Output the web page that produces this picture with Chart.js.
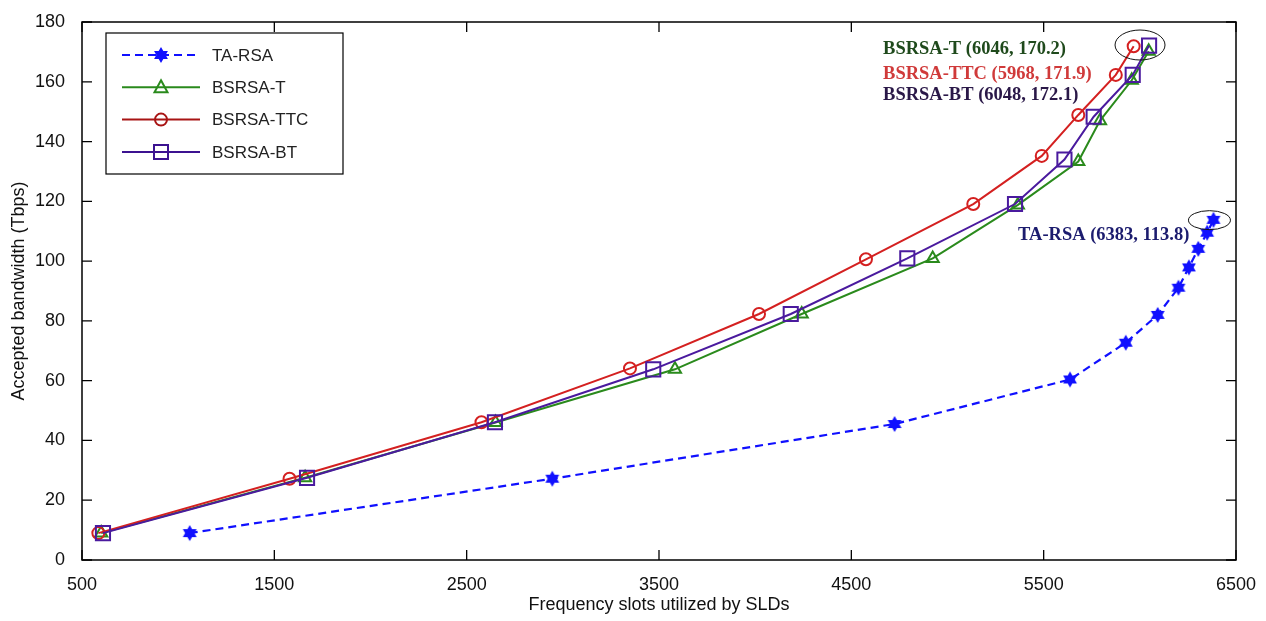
<!DOCTYPE html>
<html>
<head>
<meta charset="utf-8">
<script src="https://cdn.jsdelivr.net/npm/chart.js@4.4.0/dist/chart.umd.min.js"></script>
<style>
  html, body { margin: 0; padding: 0; background: #fff; }
  #wrap { width: 1266px; height: 621px; }
</style>
</head>
<body>
<div id="wrap"><canvas id="chart" width="1266" height="621"></canvas></div>
<script>
// values
const xTicks = [500, 1500, 2500, 3500, 4500, 5500, 6500];
const yTicks = [0, 20, 40, 60, 80, 100, 120, 140, 160, 180];

const taRsaX = [1060, 2945, 4725, 5637, 5927, 6093, 6201, 6255, 6304, 6350, 6383];
const taRsaY = [9, 27.2, 45.5, 60.4, 72.7, 82.0, 91.1, 97.9, 104.1, 109.5, 113.8];

const bsrsaTX = [600, 1660, 2650, 3583, 4242, 4923, 5366, 5680, 5793, 5958, 6046];
const bsrsaTY = [9, 27.5, 46, 63.8, 82.3, 100.9, 118.8, 133.3, 147, 160.5, 170.2];

const bsrsaTtcX = [585, 1579, 2577, 3349, 4020, 4576, 5134, 5490, 5680, 5875, 5968];
const bsrsaTtcY = [9, 27.2, 46.1, 64.1, 82.3, 100.6, 119.1, 135.2, 148.9, 162.3, 171.9];

const bsrsaBtX = [609, 1670, 2647, 3470, 4185, 4791, 5351, 5608, 5760, 5963, 6048];
const bsrsaBtY = [9, 27.5, 46.1, 63.8, 82.3, 100.9, 119.1, 134, 148.3, 162.3, 172.1];

const pts = (xs, ys) => xs.map((x, i) => ({ x: x, y: ys[i] }));

// filled six-point star marker like the matlab one
function makeStar(r, color) {
  const c = document.createElement("canvas");
  const s = r * 2 + 2;
  c.width = s;
  c.height = s;
  const g = c.getContext("2d");
  g.fillStyle = color;
  g.beginPath();
  for (let i = 0; i < 12; i++) {
    const a = -Math.PI / 2 + (i * Math.PI) / 6;
    const rr = i % 2 ? r * 0.58 : r;
    g.lineTo(s / 2 + rr * Math.cos(a), s / 2 + rr * Math.sin(a));
  }
  g.closePath();
  g.fill();
  return c;
}
const starImg = makeStar(8, "#1010ff");

const BLUE = "#1010ff";
const GREEN = "#2a8a1c";
const RED = "#d42020";
const PURPLE = "#4a1a9e";

// box, inward ticks on all four sides
const framePlugin = {
  id: "frame",
  afterDatasetsDraw(chart) {
    const { ctx, chartArea: a, scales } = chart;
    ctx.save();
    ctx.strokeStyle = "#000";
    ctx.lineWidth = 1.5;
    ctx.strokeRect(a.left, a.top, a.right - a.left, a.bottom - a.top);
    ctx.lineWidth = 1.3;
    ctx.beginPath();
    xTicks.forEach((v) => {
      const x = scales.x.getPixelForValue(v);
      ctx.moveTo(x, a.bottom); ctx.lineTo(x, a.bottom - 10);
      ctx.moveTo(x, a.top); ctx.lineTo(x, a.top + 10);
    });
    yTicks.forEach((v) => {
      const y = scales.y.getPixelForValue(v);
      ctx.moveTo(a.left, y); ctx.lineTo(a.left + 10, y);
      ctx.moveTo(a.right, y); ctx.lineTo(a.right - 10, y);
    });
    ctx.stroke();
    ctx.restore();
  },
};

function drawMarker(ctx, kind, x, y, color) {
  ctx.save();
  ctx.strokeStyle = color;
  ctx.lineWidth = 2;
  ctx.setLineDash([]);
  ctx.beginPath();
  if (kind === "star") {
    ctx.drawImage(starImg, x - starImg.width / 2, y - starImg.height / 2);
  } else if (kind === "triangle") {
    ctx.moveTo(x, y - 7); ctx.lineTo(x + 6.5, y + 5); ctx.lineTo(x - 6.5, y + 5); ctx.closePath();
    ctx.stroke();
  } else if (kind === "circle") {
    ctx.arc(x, y, 6, 0, Math.PI * 2);
    ctx.stroke();
  } else {
    ctx.rect(x - 7, y - 7, 14, 14);
    ctx.stroke();
  }
  ctx.restore();
}

// matlab style legend box plus the figure's text notes
const notesPlugin = {
  id: "notes",
  afterDraw(chart) {
    const { ctx, scales } = chart;
    const xs = scales.x, ys = scales.y;
    ctx.save();

    // legend
    const L = 106, T = 33, W = 237, H = 141;
    ctx.fillStyle = "#fff";
    ctx.fillRect(L, T, W, H);
    ctx.strokeStyle = "#000";
    ctx.lineWidth = 1.2;
    ctx.strokeRect(L, T, W, H);
    const kinds = ["star", "triangle", "circle", "rect"];
    const legColors = [BLUE, GREEN, "#a81414", "#3c1290"];
    chart.data.datasets.forEach((ds, i) => {
      const y = 55 + i * 32.3;
      ctx.strokeStyle = legColors[i];
      ctx.lineWidth = 2;
      ctx.setLineDash(ds.borderDash || []);
      ctx.beginPath();
      ctx.moveTo(122, y);
      ctx.lineTo(200, y);
      ctx.stroke();
      ctx.setLineDash([]);
      drawMarker(ctx, kinds[i], 161, y, legColors[i]);
      ctx.fillStyle = "#222";
      ctx.font = "17px 'Liberation Sans', Arial, sans-serif";
      ctx.textBaseline = "middle";
      ctx.textAlign = "left";
      ctx.fillText(ds.label, 212, y + 1);
    });

    // ellipses round the end points
    ctx.strokeStyle = "#111";
    ctx.lineWidth = 1;
    ctx.beginPath();
    ctx.ellipse(xs.getPixelForValue(6001), ys.getPixelForValue(172.3), 25, 15, 0, 0, Math.PI * 2);
    ctx.stroke();
    ctx.beginPath();
    ctx.ellipse(xs.getPixelForValue(6362), ys.getPixelForValue(113.7), 21, 9.5, 0, 0, Math.PI * 2);
    ctx.stroke();

    // labels
    ctx.font = "bold 18.5px 'Liberation Serif', 'Times New Roman', serif";
    ctx.textAlign = "left";
    ctx.textBaseline = "middle";
    const notes = [
      ["BSRSA-T (6046, 170.2)", "#1f4a1c", 4665, 171],
      ["BSRSA-TTC (5968, 171.9)", "#d03a3a", 4665, 162.6],
      ["BSRSA-BT (6048, 172.1)", "#2a1848", 4665, 155.6],
      ["TA-RSA (6383, 113.8)", "#1c1c6e", 5367, 108.7],
    ];
    notes.forEach(([t, c, x, y]) => {
      ctx.fillStyle = c;
      ctx.fillText(t, xs.getPixelForValue(x), ys.getPixelForValue(y));
    });
    ctx.restore();
  },
};

const tickFont = { family: "'Liberation Sans', Arial, sans-serif", size: 18 };

new Chart(document.getElementById("chart"), {
  type: "line",
  data: {
    datasets: [
      {
        label: "TA-RSA",
        data: pts(taRsaX, taRsaY),
        borderColor: BLUE,
        borderWidth: 2.2,
        borderDash: [8, 5],
        pointStyle: starImg,
        order: 4,
      },
      {
        label: "BSRSA-T",
        data: pts(bsrsaTX, bsrsaTY),
        borderColor: GREEN,
        borderWidth: 2,
        pointStyle: "triangle",
        pointRadius: 7,
        pointBorderWidth: 2,
        pointBackgroundColor: "rgba(0,0,0,0)",
        order: 3,
      },
      {
        label: "BSRSA-TTC",
        data: pts(bsrsaTtcX, bsrsaTtcY),
        borderColor: RED,
        borderWidth: 2,
        pointStyle: "circle",
        pointRadius: 6,
        pointBorderWidth: 2,
        pointBackgroundColor: "rgba(0,0,0,0)",
        order: 2,
      },
      {
        label: "BSRSA-BT",
        data: pts(bsrsaBtX, bsrsaBtY),
        borderColor: PURPLE,
        borderWidth: 2,
        pointStyle: "rect",
        pointRadius: 10,
        pointBorderWidth: 2,
        pointBackgroundColor: "rgba(0,0,0,0)",
        order: 1,
      },
    ],
  },
  options: {
    responsive: false,
    animation: false,
    devicePixelRatio: 1,
    layout: { padding: { top: 22, right: 30, left: 0, bottom: 0 } },
    elements: { line: { tension: 0, fill: false } },
    plugins: { legend: { display: false }, tooltip: { enabled: false } },
    scales: {
      x: {
        type: "linear",
        min: 500,
        max: 6500,
        afterBuildTicks: (s) => { s.ticks = xTicks.map((v) => ({ value: v })); },
        afterFit: (s) => { s.height = 61; },
        grid: { display: false },
        border: { display: false },
        ticks: {
          color: "#111",
          font: tickFont,
          padding: 6,
          maxRotation: 0,
          autoSkip: false,
          callback: (v) => String(v),
        },
        title: {
          display: true,
          text: "Frequency slots utilized by SLDs",
          color: "#111",
          font: tickFont,
          padding: { top: 0, bottom: 5 },
        },
      },
      y: {
        min: 0,
        max: 180,
        afterBuildTicks: (s) => { s.ticks = yTicks.map((v) => ({ value: v })); },
        afterFit: (s) => { s.width = 82; },
        grid: { display: false },
        border: { display: false },
        ticks: { color: "#111", font: tickFont, padding: 9, autoSkip: false, callback: (v) => String(v) },
        title: {
          display: true,
          text: "Accepted bandwidth (Tbps)",
          color: "#111",
          font: tickFont,
          padding: { top: 8, bottom: 0 },
        },
      },
    },
  },
  plugins: [framePlugin, notesPlugin],
});
</script>
</body>
</html>
